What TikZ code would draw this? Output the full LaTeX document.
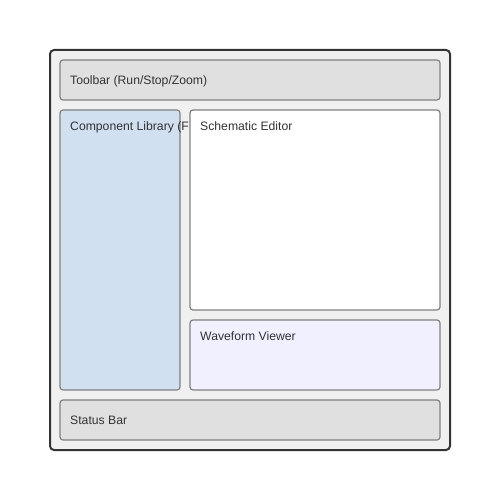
\documentclass[tikz,border=0pt]{standalone}
\usepackage{fontspec}
\setmainfont{Liberation Sans}
\definecolor{outerfill}{HTML}{F0F0F0}
\definecolor{outerline}{HTML}{333333}
\definecolor{panelline}{HTML}{808080}
\definecolor{barfill}{HTML}{E0E0E0}
\definecolor{libfill}{HTML}{D0E0F0}
\definecolor{wavefill}{HTML}{F0F0FF}
\definecolor{txt}{HTML}{333333}
\begin{document}
\begin{tikzpicture}[x=1pt,y=-1pt,
  outerbox/.style={draw=outerline,fill=outerfill,line width=2pt,rounded corners=4pt},
  panel/.style={draw=panelline,line width=1.2pt,rounded corners=3pt},
  lbl/.style={anchor=base west,inner sep=0pt,text=txt,font=\fontsize{12.2}{14}\selectfont}]
\useasboundingbox (0,0) rectangle (500,500);
\draw[outerbox] (50,50) rectangle (450,450);
\draw[panel,fill=barfill] (60,60) rectangle (440,100);
\node[lbl] (toolbar) at (70,84.5) {Toolbar (Run/Stop/Zoom)};
\draw[panel,fill=libfill] (60,110) rectangle (180,390);
\begin{scope}
\clip (60,110) rectangle (189.5,140);
\node[lbl] (lib) at (70,130.5) {Component Library (F};
\end{scope}
\draw[panel,fill=white] (190,110) rectangle (440,310);
\node[lbl] (sched) at (200,130.5) {Schematic Editor};
\draw[panel,fill=wavefill] (190,320) rectangle (440,390);
\node[lbl] (wave) at (200,340.5) {Waveform Viewer};
\draw[panel,fill=barfill] (60,400) rectangle (440,440);
\node[lbl] (status) at (70,424.5) {Status Bar};
\end{tikzpicture}
\end{document}
